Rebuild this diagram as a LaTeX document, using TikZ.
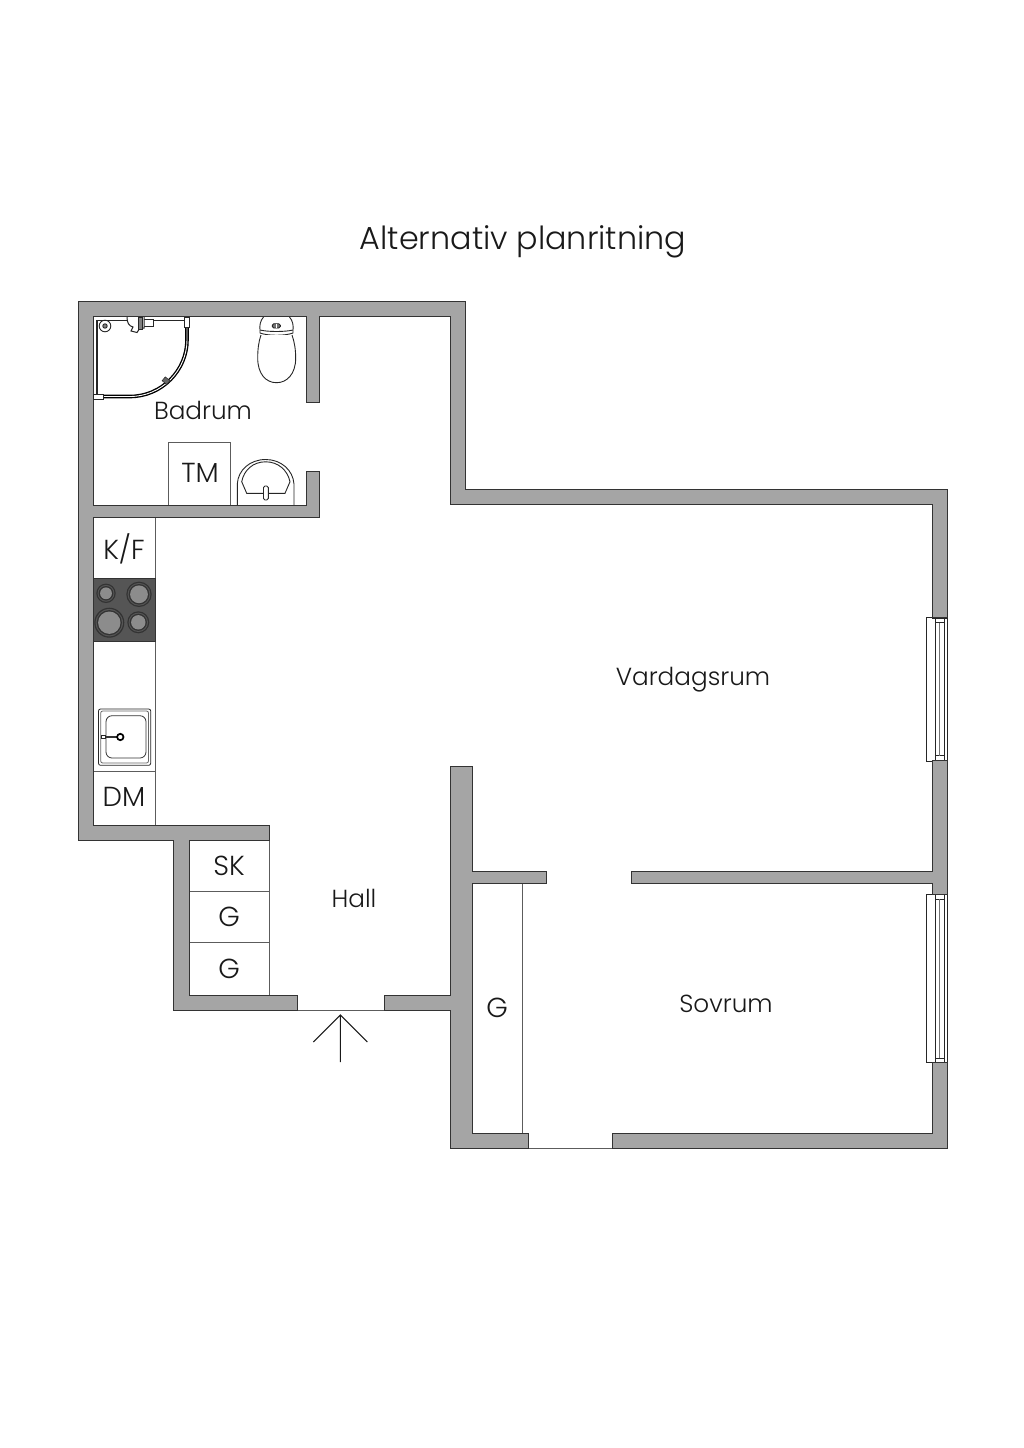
\documentclass[tikz,border=0pt]{standalone}
\usepackage{fontspec}
\setmainfont{Poppins Light}
\definecolor{wallc}{HTML}{A5A5A5}
\definecolor{linec}{HTML}{333333}
\definecolor{hobc}{HTML}{555555}
\definecolor{burnc}{HTML}{8C8C8C}
\tikzset{
 wall/.style={fill=wallc,draw=linec,line width=1pt,line join=miter},
 thin line/.style={draw=linec!80,line width=1pt},
 sym/.style={draw=black!85,line width=0.9pt},
 room/.style={font=\fontsize{24.7}{30}\selectfont,text=black!90,inner sep=0pt},
 code/.style={font=\fontsize{27.5}{32}\selectfont,text=black!90,inner sep=0pt},
 title/.style={font=\fontsize{31.8}{40}\selectfont,text=black!90,inner sep=0pt}
}
\begin{document}
\begin{tikzpicture}[x=1pt,y=-1pt]
\useasboundingbox (0,0) rectangle (1024,1448);
\fill[white] (0,0) rectangle (1024,1448);
% counters and closets
\draw[thin line] (155,517) -- (155,825);
\draw[thin line] (93,578) -- (155,578);
\draw[thin line] (93,771) -- (155,771);
\draw[thin line] (269,840) -- (269,995);
\draw[thin line] (189,891) -- (269,891);
\draw[thin line] (189,942.5) -- (269,942.5);
\draw[thin line] (522,883) -- (522,1133);
\draw[thin line] (168.7,505) -- (168.7,442.7) -- (230.7,442.7) -- (230.7,505);
\draw[thin line] (297,1010) -- (384,1010);
\draw[thin line] (528,1148) -- (612,1148);
% windows
\draw[sym] (932,617) -- (926.7,617) -- (926.7,761) -- (932,761);
\draw[sym] (932,618) -- (947.5,618) (932,760.5) -- (947.5,760.5)
 (935.3,618) -- (935.3,760.5) (947.5,618) -- (947.5,760.5) (944.2,618) -- (944.2,760.5)
 (935.3,622.7) -- (944.2,622.7) (935.3,755.7) -- (944.2,755.7);
\draw[draw=black!55,line width=1.3pt] (939.5,622.7) -- (939.5,755.7);
\draw[sym] (932,894) -- (926.7,894) -- (926.7,1062.5) -- (932,1062.5);
\draw[sym] (932,894.7) -- (947.5,894.7) (932,1062) -- (947.5,1062)
 (935.3,894.7) -- (935.3,1062) (947.5,894.7) -- (947.5,1062) (944.2,894.7) -- (944.2,1062)
 (935.3,899.3) -- (944.2,899.3) (935.3,1058) -- (944.2,1058);
\draw[draw=black!55,line width=1.3pt] (939.5,899.3) -- (939.5,1058);
% walls
\draw[wall] (932,617) -- (947.5,617) -- (947.5,489) -- (465,489) -- (465,301) -- (78,301) -- (78,840) -- (173.5,840) -- (173.5,1010) -- (297,1010) -- (297,995) -- (189,995) -- (189,840) -- (269,840) -- (269,825) -- (93,825) -- (93,517) -- (319,517) -- (319,471) -- (306,471) -- (306,505) -- (93,505) -- (93,316.5) -- (306,316.5) -- (306,402.5) -- (319,402.5) -- (319,316.5) -- (450,316.5) -- (450,504) -- (932,504) -- cycle;
\draw[wall] (384,995) -- (450,995) -- (450,766) -- (472.5,766) -- (472.5,871) -- (546,871) -- (546,883) -- (472.5,883) -- (472.5,1133) -- (528,1133) -- (528,1148) -- (450,1148) -- (450,1010) -- (384,1010) -- cycle;
\draw[wall] (612,1133) -- (932,1133) -- (932,1062) -- (947.5,1062) -- (947.5,1148) -- (612,1148) -- cycle;
\draw[wall] (932,760.5) -- (947.5,760.5) -- (947.5,894.5) -- (932,894.5) -- (932,883) -- (631,883) -- (631,871) -- (932,871) -- cycle;
% hob
\draw[fill=hobc,draw=linec,line width=1pt] (93,578) rectangle (155,641);
\foreach \cx/\cy/\ro in {106/593.3/9.7, 139/594.3/12.7, 109.3/622.7/15, 138.3/622.3/11}{
 \fill[black!80] (\cx,\cy) circle[radius=\ro];
 \fill[hobc] (\cx,\cy) circle[radius=\ro-1.3];
 \fill[black!80] (\cx,\cy) circle[radius=\ro-2.4];
 \fill[burnc] (\cx,\cy) circle[radius=\ro-3.8];
}
% kitchen sink
\draw[sym,line width=0.8pt,rounded corners=2pt] (98.5,709) rectangle (150.7,765.3);
\draw[draw=black!60,line width=0.8pt,rounded corners=2pt] (100.7,711) rectangle (148.5,763);
\draw[draw=black!80,line width=0.8pt,rounded corners=6pt] (106,715.7) rectangle (146,758);
\draw[draw=black!80,line width=2pt] (104,737) -- (118,737);
\draw[sym,fill=white,line width=0.7pt] (101.5,735.2) rectangle (105,738.8);
\draw[black,line width=1.7pt,fill=white] (120.3,737) circle[radius=3.2];
% bathroom sink
\draw[sym] (237.3,505) -- (237.3,484) .. controls (238,470) and (250,459.5) .. (265.7,459.5) .. controls (281,459.5) and (293,470) .. (294,484) -- (294,505);
\draw[sym] (241.7,481.7) .. controls (244,470) and (253,461.8) .. (265.7,461.8) .. controls (278,461.8) and (287.5,470) .. (290,481.7) -- (285,493.3) -- (246.7,493.3) -- cycle;
\draw[sym,fill=white,rounded corners=1.5pt] (263.5,486) rectangle (268.3,500);
% toilet
\draw[sym,fill=white] (263.5,317) .. controls (260,321) and (259.5,326) .. (260,330) -- (260,333) .. controls (268,336) and (285,336) .. (293,333) -- (293,330) .. controls (293.5,326) and (293,321) .. (289.5,317);
\draw[sym] (260,330) .. controls (268,332) and (285,332) .. (293,330);
\draw[sym,fill=white] (261,335) .. controls (258.5,342) and (257.7,350) .. (257.7,358) .. controls (257.7,374) and (266,382.7) .. (276.5,382.7) .. controls (287,382.7) and (295.7,374) .. (295.7,358) .. controls (295.7,350) and (294.5,342) .. (292,335);
\draw[sym,rounded corners=1.5pt,fill=black!55] (272.3,323.7) rectangle (280.3,328);
\draw[draw=white,line width=0.6pt] (276.3,323.7) -- (276.3,328);
% shower
\draw[sym,line width=1.3pt] (97,397) -- (97,320.5) -- (185,320.5);
\draw[black,line width=3.6pt] (187,326) -- (187,340) .. controls (187,370) and (162,396.5) .. (130,396.5) -- (101,396.5);
\draw[white,line width=0.9pt] (187,326) -- (187,340) .. controls (187,370) and (162,396.5) .. (130,396.5) -- (101,396.5);
\draw[sym,fill=white,line width=0.7pt] (93.5,394) rectangle (103.5,399.5);
\draw[sym,fill=white,line width=0.7pt] (184.5,317.5) rectangle (189,327);
\draw[sym,fill=black!60,line width=0.5pt,rotate around={-40:(166,380.7)}] (163,378.2) rectangle (169,383.2);
\draw[sym,line width=0.9pt] (105,326) circle[radius=5.8];
\draw[sym,line width=0.9pt,fill=black!50] (105,326) circle[radius=2.2];
\draw[sym,fill=white,line width=0.9pt] (143,319) rectangle (153,326.5);
\draw[sym,fill=white,line width=1pt] (127,317) .. controls (127,323) and (129,326) .. (133,327) -- (131,331) -- (137,332.5) -- (140,328) -- (144,328) -- (144,317);
\draw[sym,fill=black!50,line width=1pt] (138.5,317) rectangle (142,329);
% entry arrow
\coordinate (apex) at (340.3,1015);
\coordinate (stem) at (340.3,1062);
\coordinate (wl) at (313.3,1042);
\coordinate (wr) at (367.3,1042);
\draw[black!90,line width=1.1pt] (stem) -- (apex) (wl) -- (apex) -- (wr);
% labels
\node[title] (t) at (523,242) {Alternativ planritning};
\node[room] (badrum) at (203,410) {Badrum};
\node[code] (tm) at (200,473) {TM};
\node[code] (kf) at (124,549) {K/F};
\node[code] (dm) at (124,797) {DM};
\node[code] (sk) at (229,866) {SK};
\node[code] (g1) at (229,917) {G};
\node[code] (g2) at (229,969) {G};
\node[room] (hall) at (354,898) {Hall};
\node[room] (vard) at (693,680) {Vardagsrum};
\node[code] (g3) at (497,1008) {G};
\node[room] (sov) at (726,1004) {Sovrum};
\end{tikzpicture}
\end{document}
